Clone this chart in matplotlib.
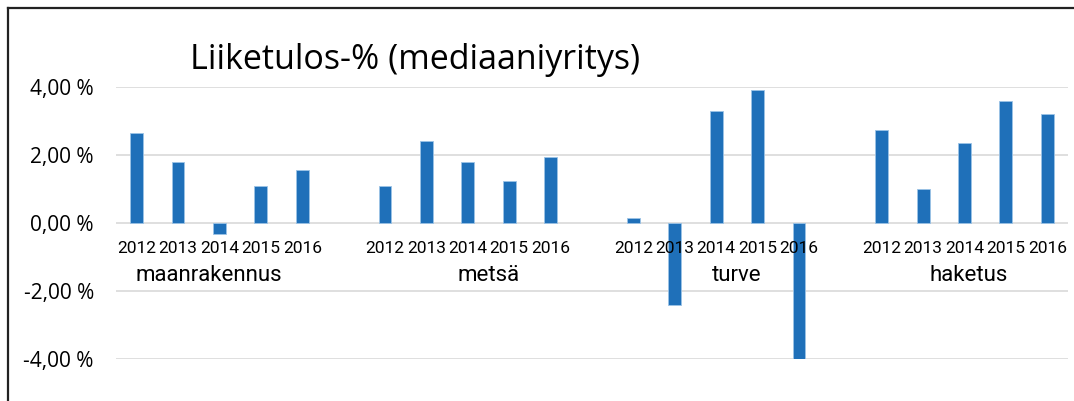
import matplotlib
matplotlib.use("Agg")
import matplotlib.pyplot as plt
from matplotlib.lines import Line2D
from matplotlib.ticker import FuncFormatter

# data (percent)
groups = ["maanrakennus", "metsä", "turve", "haketus"]
years = ["2012", "2013", "2014", "2015", "2016"]
maanrakennus = [2.67, 1.80, -0.32, 1.10, 1.57]
metsa = [1.10, 2.42, 1.80, 1.25, 1.96]
turve = [0.16, -2.39, 3.29, 3.92, -3.98]
haketus = [2.75, 1.02, 2.35, 3.61, 3.22]
yticks = [-4, -2, 0, 2, 4]

series = [maanrakennus, metsa, turve, haketus]
blue = "#1f70b9"
narrow = ["Roboto", "DejaVu Sans"]
# group label nudges (category units), the original is not centred exactly
label_shift = [-0.25, 0.5, 0.5, 0.1]

fig = plt.figure(figsize=(10.74, 4.01), dpi=100)
ax = fig.add_axes([0.108, 0.104, 0.8864, 0.6783])

step = len(years) + 1
for g, vals in enumerate(series):
    xs = [g * step + i for i in range(len(years))]
    ax.bar(xs, vals, width=0.31, color=blue, edgecolor="#9cc3e6",
           linewidth=0.6, zorder=2)
    for x, yr in zip(xs, years):
        ax.text(x, -0.73, yr, ha="center", va="center", fontsize=12.5,
                family=narrow, zorder=3)
    ax.text(sum(xs) / len(xs) + label_shift[g], -1.55, groups[g],
            ha="center", va="center", fontsize=16, family=narrow, zorder=3)

ax.set_xlim(-0.5, len(series) * step - 1.5)
ax.set_ylim(-4, 4)
ax.set_yticks(yticks)
ax.yaxis.set_major_formatter(FuncFormatter(lambda v, p: f"{v:.2f} %".replace(".", ",")))
ax.set_xticks([])
ax.tick_params(axis="y", length=0, pad=16, labelsize=15)
for lab in ax.get_yticklabels():
    lab.set_family(["Open Sans", "DejaVu Sans"])
ax.grid(axis="y", color="#d9d9d9", linewidth=1.2, zorder=0)
ax.set_axisbelow(True)
for s in ax.spines.values():
    s.set_visible(False)

fig.text(0.177, 0.85, "Liiketulos-% (mediaaniyritys)", fontsize=24.5,
         family=["Open Sans", "DejaVu Sans"], va="center", ha="left")

# chart frame, only top and left edges visible in the crop
fig.add_artist(Line2D([0.0075, 1.0], [0.979, 0.979], color="#222222", linewidth=1.6))
fig.add_artist(Line2D([0.0075, 0.0075], [0.0, 0.979], color="#222222", linewidth=1.6))

fig.savefig("out.png", dpi=100)
